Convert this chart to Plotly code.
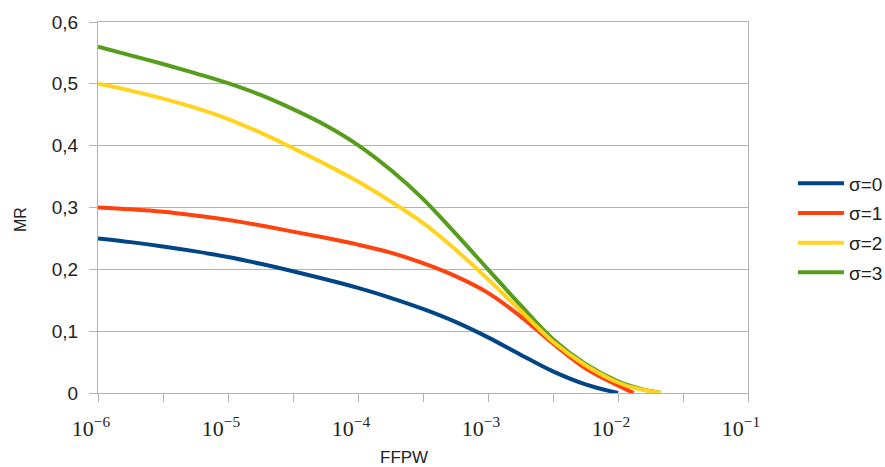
import plotly.graph_objects as go

# ---- data ----
series_names = ["σ=0", "σ=1", "σ=2", "σ=3"]

ffpw_0 = [1e-6, 1.78e-6, 3.16e-6, 5.62e-6, 1e-5, 1.78e-5, 3.16e-5, 5.62e-5, 1e-4, 1.78e-4,
          3.16e-4, 5.62e-4, 1e-3, 1.78e-3, 3.16e-3, 5.62e-3, 1e-2]
mr_0 = [0.250, 0.244, 0.237, 0.229, 0.220, 0.209, 0.197, 0.184, 0.170, 0.154,
        0.136, 0.115, 0.090, 0.062, 0.035, 0.014, 0.0]

ffpw_1 = [1e-6, 1.78e-6, 3.16e-6, 5.62e-6, 1e-5, 1.78e-5, 3.16e-5, 5.62e-5, 1e-4, 1.78e-4,
          3.16e-4, 5.62e-4, 1e-3, 1.78e-3, 3.16e-3, 5.62e-3, 1e-2, 1.32e-2]
mr_1 = [0.300, 0.297, 0.293, 0.287, 0.280, 0.271, 0.261, 0.251, 0.240, 0.227,
        0.210, 0.189, 0.162, 0.124, 0.080, 0.040, 0.012, 0.0]

ffpw_2 = [1e-6, 1.78e-6, 3.16e-6, 5.62e-6, 1e-5, 1.78e-5, 3.16e-5, 5.62e-5, 1e-4, 1.78e-4,
          3.16e-4, 5.62e-4, 1e-3, 1.78e-3, 3.16e-3, 5.62e-3, 1e-2, 1.48e-2, 2.14e-2]
mr_2 = [0.500, 0.489, 0.476, 0.461, 0.443, 0.421, 0.396, 0.370, 0.342, 0.310,
        0.275, 0.232, 0.184, 0.133, 0.083, 0.045, 0.017, 0.006, 0.0]

ffpw_3 = [1e-6, 1.78e-6, 3.16e-6, 5.62e-6, 1e-5, 1.78e-5, 3.16e-5, 5.62e-5, 1e-4, 1.78e-4,
          3.16e-4, 5.62e-4, 1e-3, 1.78e-3, 3.16e-3, 5.62e-3, 1e-2, 1.48e-2, 2.14e-2]
mr_3 = [0.560, 0.546, 0.532, 0.517, 0.501, 0.482, 0.459, 0.433, 0.401, 0.361,
        0.314, 0.258, 0.200, 0.142, 0.087, 0.047, 0.019, 0.007, 0.0]

x_tickvals = [1e-6, 1e-5, 1e-4, 1e-3, 1e-2, 1e-1]
x_ticktext = ["10<sup>−6</sup>", "10<sup>−5</sup>", "10<sup>−4</sup>",
              "10<sup>−3</sup>", "10<sup>−2</sup>", "10<sup>−1</sup>"]
x_minor_tickvals = [3.162e-6, 3.162e-5, 3.162e-4, 3.162e-3, 3.162e-2]
y_tickvals = [0, 0.1, 0.2, 0.3, 0.4, 0.5, 0.6]

colors = ["#004586", "#ff420e", "#ffd320", "#579d1c"]

fig = go.Figure()
traces = {}
for i, (name, xs, ys, c) in enumerate(zip(series_names, [ffpw_0, ffpw_1, ffpw_2, ffpw_3],
                                          [mr_0, mr_1, mr_2, mr_3], colors)):
    traces[name] = go.Scatter(x=xs, y=ys, name=name, mode="lines", legendgroup=name,
                              legendrank=i + 1,
                              line=dict(color=c, width=4, shape="spline", smoothing=1.0))
# draw green under yellow (as in the reference near the tail)
for n in ["σ=0", "σ=1", "σ=3", "σ=2"]:
    fig.add_trace(traces[n])

grid = "#b3b3b3"
txt = "#222222"
fig.update_layout(
    width=885, height=467,
    margin=dict(l=98, r=137, t=22, b=74),
    paper_bgcolor="white", plot_bgcolor="white",
    separators=", ",
    font=dict(family="Liberation Sans, Arial, sans-serif", color=txt),
    showlegend=True,
    legend=dict(xref="container", x=0.896, xanchor="left", y=0.445, yanchor="middle",
                font=dict(size=19, color=txt), tracegroupgap=2, itemwidth=46,
                bgcolor="rgba(0,0,0,0)"),
    xaxis=dict(type="log", range=[-6, -1], tickmode="array", tickvals=x_tickvals,
               ticktext=x_ticktext, showgrid=False, zeroline=False, automargin=False,
               showline=True, linecolor=grid, linewidth=1, mirror=True,
               ticks="outside", ticklen=8, tickcolor=grid,
               minor=dict(tickmode="array", tickvals=x_minor_tickvals, ticks="outside",
                          ticklen=8, tickcolor=grid, showgrid=False),
               ticklabelstandoff=8, ticklabelshift=-7,
               tickfont=dict(family="Liberation Serif, Times New Roman, serif", size=22, color=txt)),
    yaxis=dict(range=[0, 0.6], tickmode="array", tickvals=y_tickvals, automargin=False,
               showgrid=True, gridcolor=grid, gridwidth=1, zeroline=False,
               showline=True, linecolor=grid, linewidth=1, mirror=True,
               ticks="outside", ticklen=8, tickcolor=grid, ticklabelstandoff=7,
               tickfont=dict(size=19, color=txt)),
    annotations=[
        dict(text="FFPW", xref="paper", yref="paper", x=0.471, y=-0.175,
             xanchor="center", yanchor="middle", showarrow=False,
             font=dict(size=17, color=txt)),
        dict(text="MR", xref="paper", yref="paper", x=-0.12, y=0.466, textangle=-90,
             xanchor="center", yanchor="middle", showarrow=False,
             font=dict(size=16, color=txt)),
    ],
)

fig.write_html("out.html", config={"displayModeBar": False},
               post_script="document.body.style.margin='0';")
